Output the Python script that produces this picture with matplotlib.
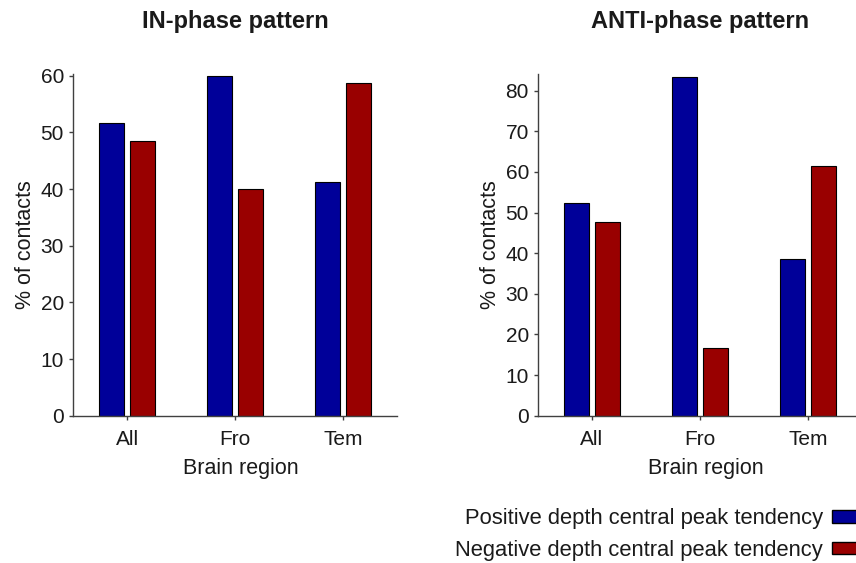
import matplotlib.pyplot as plt
from matplotlib.patches import Patch
import numpy as np

plt.rcParams['font.family'] = ['Liberation Sans', 'DejaVu Sans']

regions = ["All", "Fro", "Tem"]
in_positive = [51.6, 60.0, 41.3]
in_negative = [48.4, 40.0, 58.7]
anti_positive = [52.4, 83.3, 38.5]
anti_negative = [47.6, 16.7, 61.5]
legend_labels = ["Positive depth central peak tendency",
                 "Negative depth central peak tendency"]

blue = "#000099"
red = "#990000"
text_col = "#1a1a1a"

fig = plt.figure(figsize=(8.56, 5.63), dpi=100)

ax_in = fig.add_axes([0.0853, 0.2616, 0.3785, 0.607])
ax_anti = fig.add_axes([0.6285, 0.2616, 0.3785, 0.607])


def draw_panel(ax, pos, neg, title, ymax, yticks):
    x = np.arange(len(regions))
    w = 0.23
    off = 0.143
    ax.bar(x - off, pos, w, color=blue, edgecolor="black", linewidth=0.8)
    ax.bar(x + off, neg, w, color=red, edgecolor="black", linewidth=0.8)
    ax.set_xlim(-0.5, 2.5)
    ax.set_ylim(0, ymax)
    ax.set_yticks(yticks)
    ax.set_xticks(x)
    ax.set_xticklabels(regions)
    for s in ["top", "right"]:
        ax.spines[s].set_visible(False)
    for s in ["left", "bottom"]:
        ax.spines[s].set_color("#404040")
        ax.spines[s].set_linewidth(1.0)
    ax.tick_params(axis="both", labelsize=15, colors="#404040",
                   labelcolor=text_col, length=3, width=1.0)
    ax.tick_params(axis="x", pad=7)
    ax.set_xlabel("Brain region", fontsize=15.5, color=text_col)
    ax.xaxis.set_label_coords(0.518, -0.125)
    ax.set_ylabel("% of contacts", fontsize=15.5, color=text_col, labelpad=3)
    ax.set_title(title, fontsize=17, fontweight="bold", color=text_col, pad=33)


draw_panel(ax_in, in_positive, in_negative, "IN-phase pattern", 60.3,
           [0, 10, 20, 30, 40, 50, 60])
draw_panel(ax_anti, anti_positive, anti_negative, "ANTI-phase pattern", 84.1,
           [0, 10, 20, 30, 40, 50, 60, 70, 80])

handles = [Patch(facecolor=blue, edgecolor="black", linewidth=1.0),
           Patch(facecolor=red, edgecolor="black", linewidth=1.0)]
fig.legend(handles, legend_labels, loc="upper right",
           bbox_to_anchor=(1.01, 0.097), frameon=False, markerfirst=False,
           fontsize=15.8, handlelength=1.5, handleheight=0.5,
           handletextpad=0.4, labelspacing=0.47, borderpad=0,
           borderaxespad=0, labelcolor=text_col)

fig.savefig("out.png", dpi=100)
